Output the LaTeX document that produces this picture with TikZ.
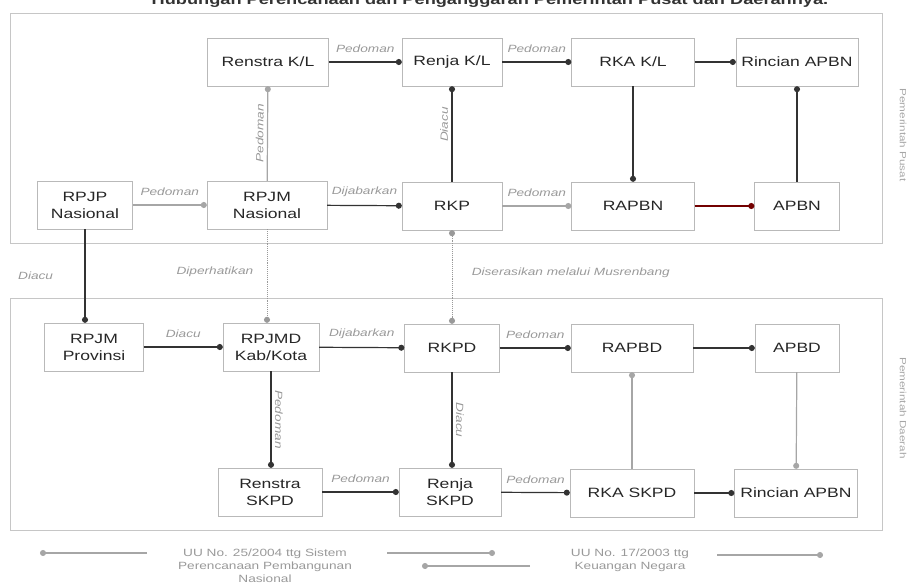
\documentclass[tikz,border=0pt]{standalone}
\usepackage{fontspec}
\setmainfont[FakeStretch=1.3]{Liberation Sans}
\usetikzlibrary{arrows.meta}

\begin{document}
\begin{tikzpicture}[x=1pt,y=-1pt,
    kotak/.style={draw=gray!55,thin,minimum height=48pt,align=center,
        font=\fontsize{13.5}{17}\selectfont,text=black!85},
    panah/.style={-{Circle[length=6pt]},line width=1.2pt,draw=black!80},
    panahabu/.style={panah,draw=gray!70},
    putus/.style={-{Circle[length=6pt]},line width=0.9pt,densely dotted,draw=gray!80},
    putusdua/.style={putus,{Circle[length=6pt]}-{Circle[length=6pt]}},
    ket/.style={font=\fontsize{10.5}{12}\itshape\selectfont,text=gray!80},
    hukum/.style={font=\fontsize{10.5}{13}\selectfont,text=gray!80,align=center},
    bingkai/.style={draw=gray!45,thin}]
\useasboundingbox (0,0) rectangle (908,582);

% judul (terpotong di atas)
\begin{scope}
\clip (0,0) rectangle (908,582);
\node[anchor=base,font=\fontsize{14}{16}\bfseries\selectfont,text=black!80] (judul) at (490,4)
    {Hubungan Perencanaan dan Penganggaran Pemerintah Pusat dan Daerahnya.};
\end{scope}

\draw[bingkai] (10,13) rectangle (882,243);
\draw[bingkai] (10,298) rectangle (882,530);

% pusat
\node[kotak,minimum width=121pt] (renstrakl) at (268,62) {Renstra K/L};
\node[kotak,minimum width=100pt] (renjakl) at (452,62) {Renja K/L};
\node[kotak,minimum width=123pt] (rkakl) at (633,62) {RKA K/L};
\node[kotak,minimum width=122pt] (rincianpusat) at (797,62) {Rincian APBN};
\node[kotak,minimum width=95pt] (rpjp) at (85,205) {RPJP\\Nasional};
\node[kotak,minimum width=120pt] (rpjmnas) at (267,205) {RPJM\\Nasional};
\node[kotak,minimum width=100pt] (rkp) at (452,206) {RKP};
\node[kotak,minimum width=123pt] (rapbn) at (633,206) {RAPBN};
\node[kotak,minimum width=85pt] (apbn) at (797,206) {APBN};

% daerah
\node[kotak,minimum width=99pt] (rpjmprov) at (94,347) {RPJM\\Provinsi};
\node[kotak,minimum width=96pt] (rpjmd) at (271,347) {RPJMD\\Kab/Kota};
\node[kotak,minimum width=95pt] (rkpd) at (452,348) {RKPD};
\node[kotak,minimum width=122pt] (rapbd) at (632,348) {RAPBD};
\node[kotak,minimum width=84pt] (apbd) at (797,348) {APBD};
\node[kotak,minimum width=104pt] (renstraskpd) at (270,492) {Renstra\\SKPD};
\node[kotak,minimum width=102pt] (renjaskpd) at (450,492) {Renja\\SKPD};
\node[kotak,minimum width=124pt] (rkaskpd) at (632,493) {RKA SKPD};
\node[kotak,minimum width=123pt] (rinciandaerah) at (796,493) {Rincian APBN};

\draw[panah] (renstrakl) -- node[ket,above=5pt] {Pedoman} (renjakl);
\draw[panah] (renjakl) -- node[ket,above=5pt] {Pedoman} (rkakl);
\draw[panah] (rkakl) -- (rincianpusat);
\draw[panah] (rkakl) -- (rapbn);
\draw[panah] (apbn) -- (rincianpusat);
\draw[panahabu] (rpjp) -- node[ket,above=5pt] {Pedoman} (rpjmnas);
\draw[panahabu] (rpjmnas) -- node[ket,sloped,above] {Pedoman} (renstrakl);
\draw[panah] (rpjmnas) -- node[ket,above=5pt] {Dijabarkan} (rkp);
\draw[panah] (rkp) -- node[ket,sloped,above,pos=0.6] {Diacu} (renjakl);
\draw[panahabu] (rkp) -- node[ket,above=5pt] {Pedoman} (rapbn);
\draw[panah,draw=red!45!black] (rapbn) -- (apbn);

% pusat ke daerah
\draw[panah] (rpjp.south) -- node[ket,left=28pt] {Diacu} (rpjp.south |- rpjmprov.north);
\draw[putus] (rpjmnas.south) -- node[ket,left=10pt,pos=0.45] {Diperhatikan} (rpjmnas.south |- rpjmd.north);
\draw[putusdua] (rkp) -- node[ket,right=16pt,pos=0.45] {Diserasikan melalui Musrenbang} (rkpd);

\draw[panah] (rpjmprov) -- node[ket,above=5pt] {Diacu} (rpjmd);
\draw[panah] (rpjmd) -- node[ket,above=5pt] {Dijabarkan} (rkpd);
\draw[panah] (rkpd) -- node[ket,above=5pt] {Pedoman} (rapbd);
\draw[panah] (rapbd) -- (apbd);
\draw[panah] (rpjmd.south) -- node[ket,sloped,above] {Pedoman} (rpjmd.south |- renstraskpd.north);
\draw[panah] (rkpd) -- node[ket,sloped,above] {Diacu} (rkpd |- renjaskpd.north);
\draw[panah] (renstraskpd) -- node[ket,above=5pt] {Pedoman} (renjaskpd);
\draw[panah] (renjaskpd) -- node[ket,above=5pt] {Pedoman} (rkaskpd);
\draw[panahabu] (rkaskpd) -- (rapbd);
\draw[panahabu] (apbd) -- (rinciandaerah);
\draw[panah] (rkaskpd) -- (rinciandaerah);

\node[font=\fontsize{9}{10}\selectfont,text=gray!70,rotate=-90] (pusat) at (903,135) {Pemerintah Pusat};
\node[font=\fontsize{9}{10}\selectfont,text=gray!70,rotate=-90] (daerah) at (903,408) {Pemerintah Daerah};

% keterangan undang-undang
\node[hukum] (uu25) at (265,566) {UU No. 25/2004 ttg Sistem\\Perencanaan Pembangunan\\Nasional};
\node[hukum] (uu17) at (630,560) {UU No. 17/2003 ttg\\Keuangan Negara};
\coordinate (a1) at (147,553);
\coordinate (a2) at (40,553);
\coordinate (b1) at (387,553);
\coordinate (b2) at (495,553);
\coordinate (c1) at (530,566);
\coordinate (c2) at (422,566);
\coordinate (d1) at (717,555);
\coordinate (d2) at (823,555);
\draw[panahabu] (a1) -- (a2);
\draw[panahabu] (b1) -- (b2);
\draw[panahabu] (c1) -- (c2);
\draw[panahabu] (d1) -- (d2);
\end{tikzpicture}
\end{document}
